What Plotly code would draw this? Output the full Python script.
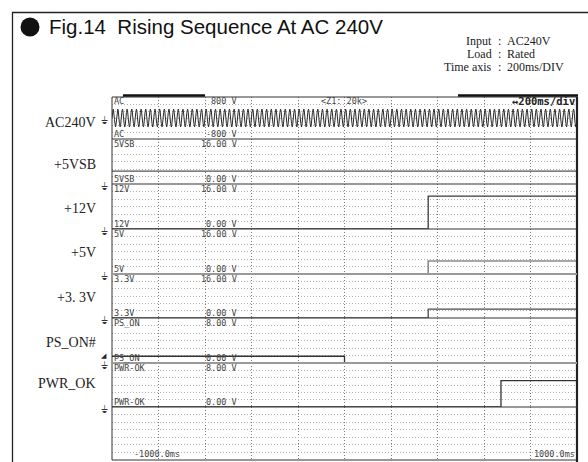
import numpy as np
import plotly.graph_objects as go

W, H = 588, 462

# ---------------- data ----------------
channel_names = ["AC", "5VSB", "12V", "5V", "3.3V", "PS_ON", "PWR-OK"]
side_labels = ["AC240V", "+5VSB", "+12V", "+5V", "+3. 3V", "PS_ON#", "PWR_OK"]
scale_top_labels = ["800 V", "16.00 V", "16.00 V", "16.00 V", "16.00 V", "8.00 V", "8.00 V"]
scale_bottom_labels = ["-800 V", "0.00 V", "0.00 V", "0.00 V", "0.00 V", "0.00 V", "0.00 V"]
scale_min_v = [-800, 0, 0, 0, 0, 0, 0]
scale_max_v = [800, 16, 16, 16, 16, 8, 8]

time_window_ms = [-1000, 1000]
time_div_ms = 200
time_labels = ["-1000.0ms", "1000.0ms"]

ac_freq_hz = 50
ac_peak_v = 340

sb5_time_ms = [-1000, 1000]
sb5_volts = [4.6, 4.6]
v12_time_ms = [-1000, 360, 1000]
v12_volts = [0.0, 11.7, 11.7]
v5_time_ms = [-1000, 360, 1000]
v5_volts = [0.0, 4.6, 4.6]
v33_time_ms = [-1000, 360, 1000]
v33_volts = [0.0, 3.2, 3.2]
ps_on_time_ms = [-1000, 0, 1000]
ps_on_volts = [1.2, 0.0, 0.0]
pwr_ok_time_ms = [-1000, 673, 1000]
pwr_ok_volts = [0.0, 4.8, 4.8]

title_text = "Fig.14  Rising Sequence At AC 240V"
header_keys = ["Input", "Load", "Time axis"]
header_vals = ["AC240V", "Rated", "200ms/DIV"]
screen_header = ["<Z1: 20k>", "\u2194200ms/div"]

# ---------------- layout helpers ----------------
SCR_L, SCR_R = 112, 577
bounds = [97, 139, 184, 229, 274, 318, 363, 407, 460]


def px(x):
    return x / W


def py(y):
    return 1 - y / H


def yname(i):
    return "y" if i == 1 else f"y{i}"


def ykey(i):
    return "yaxis" if i == 1 else f"yaxis{i}"


MONO = "DejaVu Sans Mono"
SERIF = "Liberation Serif"
SANS = "Liberation Sans"
SCR_TXT = "#454545"
SCR_FS = 8.5

fig = go.Figure()

t_ac = np.linspace(time_window_ms[0], time_window_ms[1], 8001)
ac_v = ac_peak_v * np.sin(2 * np.pi * ac_freq_hz * t_ac / 1000.0)

series = [
    (t_ac, ac_v, "#2a2a2a", "linear", 1.0),
    (sb5_time_ms, sb5_volts, "#555555", "hv", 1.2),
    (v12_time_ms, v12_volts, "#3a3a3a", "hv", 1.3),
    (v5_time_ms, v5_volts, "#8a8a8a", "hv", 1.6),
    (v33_time_ms, v33_volts, "#4a4a4a", "hv", 1.3),
    (ps_on_time_ms, ps_on_volts, "#333333", "hv", 1.3),
    (pwr_ok_time_ms, pwr_ok_volts, "#333333", "hv", 1.3),
]
for i, (t, v, c, shp, w) in enumerate(series, start=1):
    fig.add_trace(go.Scatter(x=t, y=v, mode="lines",
                             line=dict(color=c, width=w, shape=shp),
                             xaxis="x", yaxis=yname(i), hoverinfo="skip",
                             showlegend=False))
# empty bottom channel
fig.add_trace(go.Scatter(x=[time_window_ms[0]], y=[-5], mode="lines",
                         xaxis="x", yaxis="y8", hoverinfo="skip", showlegend=False))

layout = dict(width=W, height=H, margin=dict(l=0, r=0, t=0, b=0),
              paper_bgcolor="white", plot_bgcolor="white", showlegend=False)
layout["xaxis"] = dict(domain=[px(SCR_L), px(SCR_R)], range=time_window_ms,
                       tick0=time_window_ms[0], dtick=time_div_ms,
                       showgrid=True, gridcolor="#7a7a7a", griddash="1px,2px",
                       gridwidth=1, zeroline=False, showticklabels=False,
                       ticks="", showline=False, anchor="y8", fixedrange=True)
for i in range(1, 9):
    if i <= 7:
        lo, hi = scale_min_v[i - 1], scale_max_v[i - 1]
        dt = (hi - lo) / 6
    else:
        lo, hi, dt = 0, 7, 1
    layout[ykey(i)] = dict(domain=[py(bounds[i]), py(bounds[i - 1])],
                           range=[lo, hi], tick0=lo, dtick=dt,
                           showgrid=True, gridcolor="#b0b0b0",
                           griddash="1px,2px", gridwidth=1,
                           zeroline=False, showticklabels=False, ticks="",
                           showline=False, anchor="x", fixedrange=True)
fig.update_layout(**layout)

shapes = []
# outer frame of the figure panel
shapes.append(dict(type="rect", xref="paper", yref="paper",
                   x0=px(12.5), x1=px(620), y0=py(500), y1=py(12.5),
                   line=dict(color="#222", width=1.3)))
# scope screen border
shapes.append(dict(type="rect", xref="paper", yref="paper",
                   x0=px(SCR_L), x1=px(SCR_R), y0=py(bounds[-1]), y1=py(bounds[0]),
                   line=dict(color="#333", width=1)))
shapes.append(dict(type="line", xref="paper", yref="paper",
                   x0=px(SCR_R), x1=px(SCR_R), y0=py(bounds[-1] + 2), y1=py(bounds[0]),
                   line=dict(color="#222", width=2.2)))
# tabs on top of the screen
for a, b in [(123, 205), (458, 578)]:
    shapes.append(dict(type="line", xref="paper", yref="paper",
                       x0=px(a), x1=px(b), y0=py(95.5), y1=py(95.5),
                       line=dict(color="#111", width=2.5)))
# channel dividers (bottom of each channel)
div_colors = ["#333", "#333", "#333", "#999", "#333", "#9a9a9a", "#333"]
div_widths = [1.1, 1.1, 1.1, 2.0, 1.1, 2.2, 1.1]
for i in range(1, 8):
    shapes.append(dict(type="line", xref="paper", yref=f"{yname(i)} domain",
                       x0=px(SCR_L), x1=px(SCR_R), y0=0, y1=0,
                       line=dict(color=div_colors[i - 1], width=div_widths[i - 1]),
                       layer="above"))
# title bullet
shapes.append(dict(type="circle", xref="paper", yref="paper",
                   x0=px(20.5), x1=px(39.5), y0=py(36.5), y1=py(17.5),
                   fillcolor="#111", line=dict(color="#111", width=0)))
fig.update_layout(shapes=shapes)

ann = []
ann.append(dict(text=title_text, x=px(47), y=py(27), xref="paper", yref="paper",
                xanchor="left", yanchor="middle", showarrow=False,
                font=dict(family=SANS, size=20.5, color="#111")))
HDR_FS = 12
for k, (key, val) in enumerate(zip(header_keys, header_vals)):
    yy = py(41.5 + 13 * k)
    ann.append(dict(text=key, x=px(493), y=yy, xref="paper", yref="paper",
                    xanchor="right", yanchor="middle", showarrow=False, borderpad=0,
                    font=dict(family=SERIF, size=HDR_FS, color="#222")))
    ann.append(dict(text=":", x=px(499.5), y=yy, xref="paper", yref="paper",
                    xanchor="center", yanchor="middle", showarrow=False, borderpad=0,
                    font=dict(family=SERIF, size=HDR_FS, color="#222")))
    ann.append(dict(text=val, x=px(506), y=yy, xref="paper", yref="paper",
                    xanchor="left", yanchor="middle", showarrow=False, borderpad=0,
                    font=dict(family=SERIF, size=HDR_FS, color="#222")))

side_y_shift = [-4, -3, -1.5, -0.5, -1, -1.5, 2]
TOP_SHIFT, BOT_SHIFT = -4.5, 5
for i in range(1, 8):
    ann.append(dict(text=side_labels[i - 1], x=px(98), y=0.5, xref="paper",
                    yref=f"{yname(i)} domain", xanchor="right", yanchor="middle",
                    yshift=side_y_shift[i - 1], showarrow=False,
                    font=dict(family=SERIF, size=14, color="#222")))
    # scope labels
    for txt, yv, ys in [(channel_names[i - 1], 1, TOP_SHIFT),
                        (channel_names[i - 1], 0, BOT_SHIFT)]:
        ann.append(dict(text=txt, x=px(113), y=yv, xref="paper",
                        yref=f"{yname(i)} domain", xanchor="left", yanchor="middle",
                        yshift=ys, showarrow=False, borderpad=0,
                        font=dict(family=MONO, size=SCR_FS, color=SCR_TXT)))
    ann.append(dict(text=scale_top_labels[i - 1], x=px(238), y=1, xref="paper",
                    yref=f"{yname(i)} domain", xanchor="right", yanchor="middle",
                    yshift=TOP_SHIFT, showarrow=False, borderpad=0,
                    font=dict(family=MONO, size=SCR_FS, color=SCR_TXT)))
    ann.append(dict(text=scale_bottom_labels[i - 1], x=px(238), y=0, xref="paper",
                    yref=f"{yname(i)} domain", xanchor="right", yanchor="middle",
                    yshift=BOT_SHIFT, showarrow=False, borderpad=0,
                    font=dict(family=MONO, size=SCR_FS, color=SCR_TXT)))
    # ground markers
    gy = 0.5 if i == 1 else 0
    ann.append(dict(text="\u23da", x=px(104), y=gy, xref="paper",
                    yref=f"{yname(i)} domain", xanchor="center", yanchor="middle",
                    yshift=-2, showarrow=False,
                    font=dict(family="DejaVu Sans", size=10, color="#333")))
# trigger marker on PS_ON
ann.append(dict(text="\u25e2", x=px(104), y=ps_on_volts[0], xref="paper",
                yref="y6", xanchor="center", yanchor="middle", yshift=0,
                showarrow=False, font=dict(family="DejaVu Sans", size=7, color="#222")))

ann.append(dict(text=screen_header[0], x=px(320), y=1, xref="paper", yref="y domain",
                xanchor="left", yanchor="middle", yshift=TOP_SHIFT, showarrow=False,
                borderpad=0, font=dict(family=MONO, size=SCR_FS, color=SCR_TXT)))
ann.append(dict(text="<b>" + screen_header[1] + "</b>", x=px(576), y=1, xref="paper",
                yref="y domain", xanchor="right", yanchor="middle", yshift=-4.5,
                showarrow=False, borderpad=0,
                font=dict(family=MONO, size=10.5, color="#222")))
ann.append(dict(text=time_labels[0], x=px(133), y=0, xref="paper", yref="y8 domain",
                xanchor="left", yanchor="middle", yshift=6, showarrow=False,
                borderpad=0, font=dict(family=MONO, size=SCR_FS, color=SCR_TXT)))
ann.append(dict(text=time_labels[1], x=px(576), y=0, xref="paper", yref="y8 domain",
                xanchor="right", yanchor="middle", yshift=6, showarrow=False,
                borderpad=0, font=dict(family=MONO, size=SCR_FS, color=SCR_TXT)))
fig.update_layout(annotations=ann)

fig.write_html("out.html",
               config={"displayModeBar": False, "staticPlot": True},
               post_script="document.body.style.margin='0';document.body.style.padding='0';")
